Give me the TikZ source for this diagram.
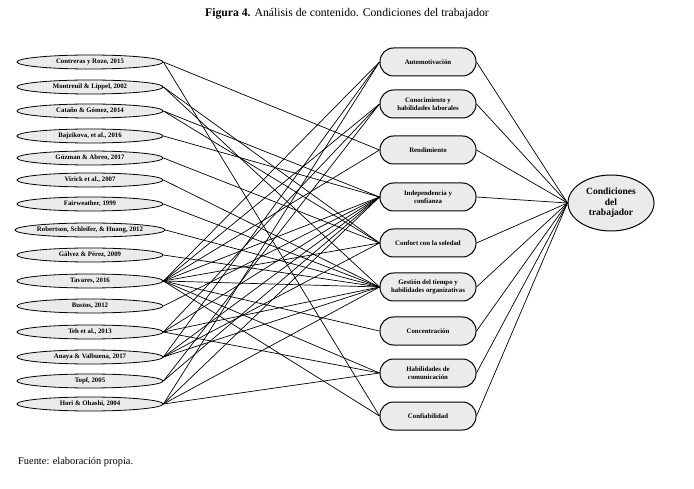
\documentclass[tikz,border=0pt]{standalone}
\usepackage{fontspec}
\setmainfont{Liberation Serif}
\usetikzlibrary{shapes.geometric}
\definecolor{nodegray}{HTML}{EBEBEB}
\begin{document}
\begin{tikzpicture}[x=1pt,y=-1pt,
  lnode/.style={ellipse, draw, fill=nodegray, line width=0.8pt, minimum width=146pt, minimum height=14pt, inner sep=0pt, font=\bfseries\fontsize{6.8}{8}\selectfont},
  mnode/.style={rectangle, rounded corners=13.5pt, draw, fill=nodegray, line width=1pt, minimum width=96pt, minimum height=28pt, inner sep=1pt, align=center, font=\bfseries\fontsize{6.8}{7.6}\selectfont},
  rnode/.style={ellipse, draw, fill=nodegray, line width=1pt, minimum width=86pt, minimum height=56pt, inner sep=0pt, align=center, font=\bfseries\fontsize{9.5}{10.5}\selectfont},
  conn/.style={line width=0.7pt}]
\useasboundingbox (0,0) rectangle (694,489);
% title and footer
\node[font=\fontsize{11.7}{13}\selectfont] (title) at (347,14) {\textbf{Figura 4.} Análisis de contenido. Condiciones del trabajador};
\node[font=\fontsize{10.4}{12}\selectfont, anchor=west, inner sep=0pt] (foot) at (18,462) {Fuente: elaboración propia.};
% left nodes
\node[lnode] (L1) at (90,62) {Contreras y Rozo, 2015};
\node[lnode] (L2) at (90,87) {Montreuil \& Lippel, 2002};
\node[lnode] (L3) at (90,111) {Cataño \& Gómez, 2014};
\node[lnode] (L4) at (90,136) {Bajzikova, et al., 2016};
\node[lnode] (L5) at (90,158) {Gúzman \& Abreo, 2017};
\node[lnode] (L6) at (90,180) {Virick et al., 2007};
\node[lnode] (L7) at (90,204) {Fairweather, 1999};
\node[lnode] (L8) at (90,230) {Robertson, Schleifer, \& Huang, 2012};
\node[lnode] (L9) at (90,255) {Gálvez \& Pérez, 2009};
\node[lnode] (L10) at (90,281) {Tavares, 2016};
\node[lnode] (L11) at (90,306) {Bustos, 2012};
\node[lnode] (L12) at (90,332) {Teh et al., 2013};
\node[lnode] (L13) at (90,357) {Anaya \& Valbuena, 2017};
\node[lnode] (L14) at (90,381) {Topf, 2005};
\node[lnode] (L15) at (90,404) {Hori \& Ohashi, 2004};
% middle nodes
\node[mnode] (M1) at (428,62) {Automotivación};
\node[mnode] (M2) at (428,104) {Conocimiento y\\habilidades laborales};
\node[mnode] (M3) at (428,150) {Rendimiento};
\node[mnode] (M4) at (428,197) {Independencia y\\confianza};
\node[mnode] (M5) at (428,243) {Confort con la soledad};
\node[mnode] (M6) at (428,287) {Gestión del tiempo y\\habilidades organizativas};
\node[mnode] (M7) at (428,331) {Concentración};
\node[mnode] (M8) at (428,373) {Habilidades de\\comunicación};
\node[mnode] (M9) at (428,416) {Confiabilidad};
% right node
\node[rnode] (R) at (611,203) {Condiciones\\del\\trabajador};
% connectors left -> middle
\foreach \a/\b in {L1/M3, L1/M9,
  L2/M5, L2/M6,
  L3/M4, L3/M5,
  L4/M4,
  L5/M5,
  L6/M6, L7/M6, L8/M6, L9/M6,
  L10/M1, L10/M2, L10/M3, L10/M4, L10/M5, L10/M6, L10/M7, L10/M8, L10/M9,
  L11/M4,
  L12/M2, L12/M4, L12/M6, L12/M8,
  L13/M1, L13/M4, L13/M5, L13/M6,
  L14/M2, L14/M4,
  L15/M1, L15/M4, L15/M6, L15/M8}
  \draw[conn] (\a.east) -- (\b.west);
% connectors middle -> right
\foreach \m in {M1,M2,M3,M4,M5,M6,M7,M8,M9}
  \draw[conn] (\m.east) -- (R.west);
\end{tikzpicture}
\end{document}
